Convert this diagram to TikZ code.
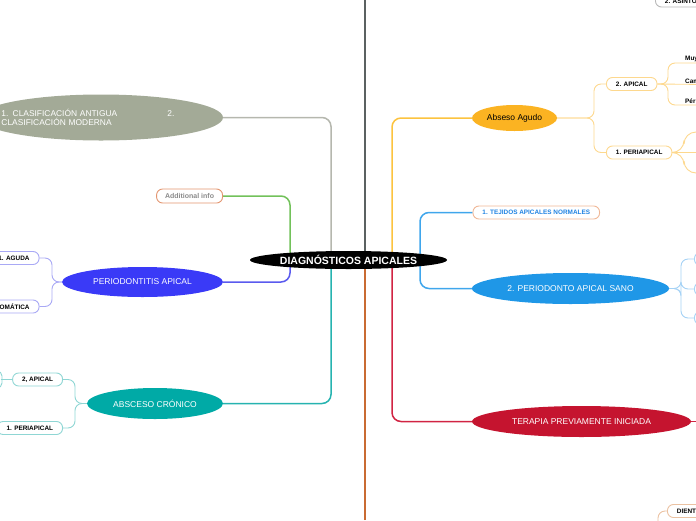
\documentclass[tikz,border=0pt]{standalone}
\usepackage{fontspec}
\setmainfont{Liberation Sans}
\usetikzlibrary{shapes.geometric,backgrounds}
\definecolor{clasfill}{HTML}{A3AA97}
\definecolor{gcon}{HTML}{B5B7AE}
\definecolor{gren}{HTML}{72C15A}
\definecolor{perfill}{HTML}{3A3AF7}
\definecolor{bcon}{HTML}{5A5AEE}
\definecolor{bsub}{HTML}{A9A9F5}
\definecolor{acrfill}{HTML}{00AAA6}
\definecolor{tcon}{HTML}{26B3B0}
\definecolor{tsub}{HTML}{8FD6D4}
\definecolor{darkl}{HTML}{5B6161}
\definecolor{orgl}{HTML}{C96B32}
\definecolor{agfill}{HTML}{FBB322}
\definecolor{ycon}{HTML}{FCC33F}
\definecolor{ysub}{HTML}{FDD88E}
\definecolor{sanofill}{HTML}{1F97E7}
\definecolor{lbcon}{HTML}{3FA6EC}
\definecolor{lbsub}{HTML}{A5D2F5}
\definecolor{tejb}{HTML}{F0B796}
\definecolor{tejt}{HTML}{1F83E3}
\definecolor{terfill}{HTML}{C5142F}
\definecolor{rcon}{HTML}{D12443}
\definecolor{infob}{HTML}{E3956F}
\definecolor{infot}{HTML}{8A8A8A}
\definecolor{dientb}{HTML}{EBC2A2}
\definecolor{asb}{HTML}{B8B8B8}
\begin{document}
\begin{tikzpicture}[x=1pt,y=-1pt,
 ell/.style={ellipse,inner sep=0pt,text=white,font=\fontsize{8.5}{10}\selectfont},
 tbox/.style={rounded corners=6pt,draw,line width=0.9pt,fill=white,inner xsep=9.5pt,inner ysep=0pt,minimum height=13pt,font=\bfseries\fontsize{6.4}{7}\selectfont,text=black},
 topic/.style={inner sep=1pt,font=\bfseries\fontsize{6.4}{7}\selectfont,text=black,anchor=south west},
 mainc/.style={line width=1.5pt,rounded corners=9pt},
 subc/.style={line width=0.9pt,rounded corners=7pt},
]
\useasboundingbox (0,0) rectangle (696,520);

% central node
\node[ell,fill=black,minimum width=197pt,minimum height=18pt,font=\bfseries\fontsize{10.5}{12}\selectfont] (c) at (348.5,260) {DIAGNÓSTICOS APICALES};

% left main nodes
\node[ell,fill=clasfill,minimum width=244pt,minimum height=46pt,
  label={[text=white,align=left,text width=199pt,font=\fontsize{8.4}{9.6}\selectfont,inner sep=0pt]center:\makebox[166pt][l]{1. CLASIFICACIÓN ANTIGUA}2.\\CLASIFICACIÓN MODERNA}] (clas) at (101,117.5) {};
\node[tbox,anchor=east,draw=infob,text=infot,font=\bfseries\fontsize{7}{8}\selectfont,minimum height=14pt,inner xsep=8.5pt] (info) at (223,196) {Additional info};
\node[ell,fill=perfill,minimum width=161pt,minimum height=30pt] (perio) at (142.5,282) {PERIODONTITIS APICAL};
\node[ell,fill=acrfill,minimum width=136pt,minimum height=31pt] (acr) at (155,403.5) {ABSCESO CRÓNICO};

% left children
\node[tbox,anchor=east,draw=bsub] (aguda) at (39.5,258) {1. AGUDA};
\node[tbox,anchor=east,draw=bsub] (asinto) at (39.5,306.5) {2. ASINTOMÁTICA};
\node[tbox,anchor=east,draw=tsub] (tapical) at (63,379.5) {2, APICAL};
\node[tbox,anchor=east,draw=tsub] (tperi) at (63,428) {1. PERIAPICAL};

% right main nodes
\node[ell,fill=agfill,text=black,minimum width=85pt,minimum height=26pt] (agudo) at (514.5,118) {Abseso Agudo};
\node[tbox,anchor=west,draw=tejb,text=tejt] (tej) at (472.5,212.5) {1. TEJIDOS APICALES NORMALES};
\node[ell,fill=sanofill,minimum width=197pt,minimum height=31pt] (sano) at (570.5,288.5) {2. PERIODONTO APICAL SANO};
\node[ell,fill=terfill,minimum width=219pt,minimum height=31pt] (tera) at (581.5,421.5) {TERAPIA PREVIAMENTE INICIADA};

% right children
\node[tbox,anchor=west,draw=asb] (astop) at (655,0.5) {2. ASINTOMÁTICA};
\node[tbox,anchor=west,draw=ysub] (yapical) at (606,84) {2. APICAL};
\node[tbox,anchor=west,draw=ysub] (yperi) at (606,152.5) {1. PERIAPICAL};
\node[topic] (muy) at (684,63) {Muy};
\node[topic] (cam) at (684,84.3) {Cam};
\node[topic] (per) at (684,105) {Pér};
\node[tbox,anchor=west,draw=lbsub,minimum width=40pt] (s1) at (694,259) {};
\node[tbox,anchor=west,draw=lbsub,minimum width=40pt] (s2) at (694,289) {};
\node[tbox,anchor=west,draw=lbsub,minimum width=40pt] (s3) at (694,318) {};
\node[tbox,anchor=west,draw=dientb] (dient) at (667,511) {DIENTE};

% helper coordinates
\coordinate (xg) at (331,0);
\coordinate (xgr) at (290,0);
\coordinate (xy) at (392,0);
\coordinate (xb) at (420,0);
\coordinate (xd) at (365,0);
\coordinate (xo) at (365,520);
\coordinate (bp) at (52,0);
\coordinate (bt) at (75,0);
\coordinate (by) at (594,0);
\coordinate (bm) at (668,0);
\coordinate (bq) at (684,0);
\coordinate (bs) at (681,0);
\coordinate (q1) at (700,132);
\coordinate (q2) at (700,152.5);
\coordinate (q3) at (700,173);
\coordinate (t1) at (700,421.5);
\coordinate (tl) at (1,379.5);
\coordinate (dd) at (658,525);

\begin{scope}[on background layer]
\draw[line width=2pt,darkl] (xd) -- (c.center -| xd);
\draw[line width=2pt,orgl] (xo) -- (c.center -| xo);
\draw[mainc,gcon] (c.center -| xg) |- (clas.east);
\draw[mainc,tcon] (c.center -| xg) |- (acr.east);
\draw[mainc,gren] (c.center -| xgr) |- (info.east);
\draw[mainc,bcon] (c.center -| xgr) |- (perio.east);
\draw[mainc,ycon] (c.center -| xy) |- (agudo.west);
\draw[mainc,rcon] (c.center -| xy) |- (tera.west);
\draw[mainc,lbcon] (tej.west) -| (sano.west -| xb) -- (sano.west);
% sub connectors
\draw[subc,bsub] (perio.west) -- (perio.west -| bp) |- (aguda.east);
\draw[subc,bsub] (perio.west) -- (perio.west -| bp) |- (asinto.east);
\draw[subc,tsub] (acr.west) -- (acr.west -| bt) |- (tapical.east);
\draw[subc,tsub] (acr.west) -- (acr.west -| bt) |- (tperi.east);
\draw[subc,tsub] (tapical.west) -- (tl);
\draw[subc,tsub,rounded corners=5pt] (-8,371) -| (2,388) -- (-8,388);
\draw[subc,ysub] (agudo.east) -- (agudo.east -| by) |- (yapical.west);
\draw[subc,ysub] (agudo.east) -- (agudo.east -| by) |- (yperi.west);
\draw[subc,ysub] (yapical.east) -- (yapical.east -| bm) |- (muy.south west) -- ++(20,0);
\draw[subc,ysub] (yapical.east) -- (cam.south west) -- ++(20,0);
\draw[subc,ysub] (yapical.east) -- (yapical.east -| bm) |- (per.south west) -- ++(20,0);
\draw[subc,ysub,rounded corners=12pt] (yperi.east) -- (yperi.east -| bq) |- (q1);
\draw[subc,ysub,rounded corners=12pt] (yperi.east) -- (yperi.east -| bq) |- (q3);
\draw[subc,ysub] (yperi.east) -- (q2);
\draw[subc,lbsub] (sano.east) -- (sano.east -| bs) |- (s1.west);
\draw[subc,lbsub] (sano.east) -- (sano.east -| bs) |- (s2.west);
\draw[subc,lbsub] (sano.east) -- (sano.east -| bs) |- (s3.west);
\draw[subc,rcon] (tera.east) -- (t1);
\draw[subc,dientb] (dd) |- (dient.west);
\end{scope}
\end{tikzpicture}
\end{document}
